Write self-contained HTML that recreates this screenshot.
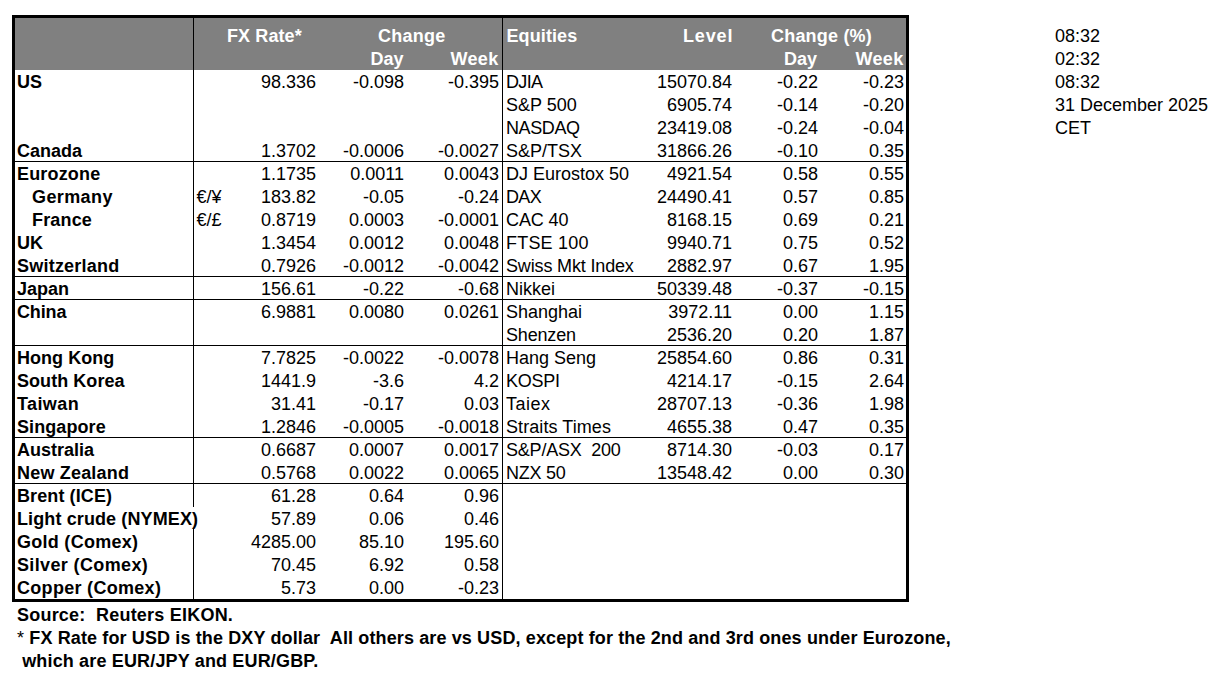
<!DOCTYPE html>
<html><head><meta charset="utf-8"><style>
html,body{margin:0;padding:0;background:#fff;width:1219px;height:673px;overflow:hidden}
body{position:relative;font-family:"Liberation Sans",sans-serif;font-size:18px;color:#000}
.t{position:absolute;line-height:23px;white-space:pre}
.r{text-align:right}
.b{font-weight:bold}
.w{color:#fff;font-weight:bold}
#frame{position:absolute;left:12px;top:15px;width:897px;height:587px;border:3px solid #000;box-sizing:border-box}
#hdr{position:absolute;left:15px;top:18px;width:891px;height:52px;background:#808080}
.vl{position:absolute;width:1px;background:#000}
.hl{position:absolute;left:15px;width:891px;height:1px;background:#000}
</style></head><body>
<div id="hdr"></div>
<div class="vl" style="left:193px;top:18px;height:489px"></div>
<div class="vl" style="left:193px;top:529px;height:70px"></div>
<div class="vl" style="left:502px;top:18px;height:581px"></div>
<div class="hl" style="top:161px"></div>
<div class="hl" style="top:276px"></div>
<div class="hl" style="top:299px"></div>
<div class="hl" style="top:345px"></div>
<div class="hl" style="top:437px"></div>
<div class="hl" style="top:483px"></div>
<div id="frame"></div>
<div class="t w" style="left:227px;top:25px;letter-spacing:0.1px">FX Rate*</div>
<div class="t w" style="left:378px;top:25px;letter-spacing:0.24px">Change</div>
<div class="t w" style="left:370.5px;top:48px">Day</div>
<div class="t w" style="left:450.5px;top:48px;letter-spacing:0.33px">Week</div>
<div class="t w" style="left:506.5px;top:25px;letter-spacing:0.1px">Equities</div>
<div class="t w" style="left:683px;top:25px;letter-spacing:0.85px">Level</div>
<div class="t w" style="left:771px;top:25px;letter-spacing:0.2px">Change (%)</div>
<div class="t w" style="left:784px;top:48px">Day</div>
<div class="t w" style="left:855.5px;top:48px;letter-spacing:0.33px">Week</div>
<div class="t b" style="left:17px;top:71px;">US</div>
<div class="t r " style="right:903px;top:71px;">98.336</div>
<div class="t r " style="right:815px;top:71px;">-0.098</div>
<div class="t r " style="right:720px;top:71px;">-0.395</div>
<div class="t " style="left:506px;top:71px;letter-spacing:-0.667px;">DJIA</div>
<div class="t r " style="right:487px;top:71px;">15070.84</div>
<div class="t r " style="right:401px;top:71px;">-0.22</div>
<div class="t r " style="right:315px;top:71px;">-0.23</div>
<div class="t " style="left:506px;top:94px;">S&amp;P 500</div>
<div class="t r " style="right:487px;top:94px;">6905.74</div>
<div class="t r " style="right:401px;top:94px;">-0.14</div>
<div class="t r " style="right:315px;top:94px;">-0.20</div>
<div class="t " style="left:506px;top:117px;letter-spacing:-0.400px;">NASDAQ</div>
<div class="t r " style="right:487px;top:117px;">23419.08</div>
<div class="t r " style="right:401px;top:117px;">-0.24</div>
<div class="t r " style="right:315px;top:117px;">-0.04</div>
<div class="t b" style="left:17px;top:140px;">Canada</div>
<div class="t r " style="right:903px;top:140px;">1.3702</div>
<div class="t r " style="right:815px;top:140px;">-0.0006</div>
<div class="t r " style="right:720px;top:140px;">-0.0027</div>
<div class="t " style="left:506px;top:140px;">S&amp;P/TSX</div>
<div class="t r " style="right:487px;top:140px;">31866.26</div>
<div class="t r " style="right:401px;top:140px;">-0.10</div>
<div class="t r " style="right:315px;top:140px;">0.35</div>
<div class="t b" style="left:17px;top:163px;letter-spacing:0.171px;">Eurozone</div>
<div class="t r " style="right:903px;top:163px;">1.1735</div>
<div class="t r " style="right:815px;top:163px;">0.0011</div>
<div class="t r " style="right:720px;top:163px;">0.0043</div>
<div class="t " style="left:506px;top:163px;">DJ Eurostox 50</div>
<div class="t r " style="right:487px;top:163px;">4921.54</div>
<div class="t r " style="right:401px;top:163px;">0.58</div>
<div class="t r " style="right:315px;top:163px;">0.55</div>
<div class="t b" style="left:32px;top:186px;letter-spacing:0.400px;">Germany</div>
<div class="t " style="left:196.5px;top:186px;">€/¥</div>
<div class="t r " style="right:903px;top:186px;">183.82</div>
<div class="t r " style="right:815px;top:186px;">-0.05</div>
<div class="t r " style="right:720px;top:186px;">-0.24</div>
<div class="t " style="left:506px;top:186px;letter-spacing:-0.650px;">DAX</div>
<div class="t r " style="right:487px;top:186px;">24490.41</div>
<div class="t r " style="right:401px;top:186px;">0.57</div>
<div class="t r " style="right:315px;top:186px;">0.85</div>
<div class="t b" style="left:32px;top:209px;letter-spacing:0.160px;">France</div>
<div class="t " style="left:196.5px;top:209px;">€/£</div>
<div class="t r " style="right:903px;top:209px;">0.8719</div>
<div class="t r " style="right:815px;top:209px;">0.0003</div>
<div class="t r " style="right:720px;top:209px;">-0.0001</div>
<div class="t " style="left:506px;top:209px;letter-spacing:-0.120px;">CAC 40</div>
<div class="t r " style="right:487px;top:209px;">8168.15</div>
<div class="t r " style="right:401px;top:209px;">0.69</div>
<div class="t r " style="right:315px;top:209px;">0.21</div>
<div class="t b" style="left:17px;top:232px;">UK</div>
<div class="t r " style="right:903px;top:232px;">1.3454</div>
<div class="t r " style="right:815px;top:232px;">0.0012</div>
<div class="t r " style="right:720px;top:232px;">0.0048</div>
<div class="t " style="left:506px;top:232px;letter-spacing:0.200px;">FTSE 100</div>
<div class="t r " style="right:487px;top:232px;">9940.71</div>
<div class="t r " style="right:401px;top:232px;">0.75</div>
<div class="t r " style="right:315px;top:232px;">0.52</div>
<div class="t b" style="left:17px;top:255px;letter-spacing:0.220px;">Switzerland</div>
<div class="t r " style="right:903px;top:255px;">0.7926</div>
<div class="t r " style="right:815px;top:255px;">-0.0012</div>
<div class="t r " style="right:720px;top:255px;">-0.0042</div>
<div class="t " style="left:506px;top:255px;letter-spacing:-0.157px;">Swiss Mkt Index</div>
<div class="t r " style="right:487px;top:255px;">2882.97</div>
<div class="t r " style="right:401px;top:255px;">0.67</div>
<div class="t r " style="right:315px;top:255px;">1.95</div>
<div class="t b" style="left:17px;top:278px;">Japan</div>
<div class="t r " style="right:903px;top:278px;">156.61</div>
<div class="t r " style="right:815px;top:278px;">-0.22</div>
<div class="t r " style="right:720px;top:278px;">-0.68</div>
<div class="t " style="left:506px;top:278px;">Nikkei</div>
<div class="t r " style="right:487px;top:278px;">50339.48</div>
<div class="t r " style="right:401px;top:278px;">-0.37</div>
<div class="t r " style="right:315px;top:278px;">-0.15</div>
<div class="t b" style="left:17px;top:301px;letter-spacing:-0.150px;">China</div>
<div class="t r " style="right:903px;top:301px;">6.9881</div>
<div class="t r " style="right:815px;top:301px;">0.0080</div>
<div class="t r " style="right:720px;top:301px;">0.0261</div>
<div class="t " style="left:506px;top:301px;">Shanghai</div>
<div class="t r " style="right:487px;top:301px;">3972.11</div>
<div class="t r " style="right:401px;top:301px;">0.00</div>
<div class="t r " style="right:315px;top:301px;">1.15</div>
<div class="t " style="left:506px;top:324px;letter-spacing:-0.167px;">Shenzen</div>
<div class="t r " style="right:487px;top:324px;">2536.20</div>
<div class="t r " style="right:401px;top:324px;">0.20</div>
<div class="t r " style="right:315px;top:324px;">1.87</div>
<div class="t b" style="left:17px;top:347px;letter-spacing:0.037px;">Hong Kong</div>
<div class="t r " style="right:903px;top:347px;">7.7825</div>
<div class="t r " style="right:815px;top:347px;">-0.0022</div>
<div class="t r " style="right:720px;top:347px;">-0.0078</div>
<div class="t " style="left:506px;top:347px;">Hang Seng</div>
<div class="t r " style="right:487px;top:347px;">25854.60</div>
<div class="t r " style="right:401px;top:347px;">0.86</div>
<div class="t r " style="right:315px;top:347px;">0.31</div>
<div class="t b" style="left:17px;top:370px;letter-spacing:0.050px;">South Korea</div>
<div class="t r " style="right:903px;top:370px;">1441.9</div>
<div class="t r " style="right:815px;top:370px;">-3.6</div>
<div class="t r " style="right:720px;top:370px;">4.2</div>
<div class="t " style="left:506px;top:370px;letter-spacing:-0.250px;">KOSPI</div>
<div class="t r " style="right:487px;top:370px;">4214.17</div>
<div class="t r " style="right:401px;top:370px;">-0.15</div>
<div class="t r " style="right:315px;top:370px;">2.64</div>
<div class="t b" style="left:17px;top:393px;letter-spacing:0.400px;">Taiwan</div>
<div class="t r " style="right:903px;top:393px;">31.41</div>
<div class="t r " style="right:815px;top:393px;">-0.17</div>
<div class="t r " style="right:720px;top:393px;">0.03</div>
<div class="t " style="left:506px;top:393px;letter-spacing:0.525px;">Taiex</div>
<div class="t r " style="right:487px;top:393px;">28707.13</div>
<div class="t r " style="right:401px;top:393px;">-0.36</div>
<div class="t r " style="right:315px;top:393px;">1.98</div>
<div class="t b" style="left:17px;top:416px;letter-spacing:0.087px;">Singapore</div>
<div class="t r " style="right:903px;top:416px;">1.2846</div>
<div class="t r " style="right:815px;top:416px;">-0.0005</div>
<div class="t r " style="right:720px;top:416px;">-0.0018</div>
<div class="t " style="left:506px;top:416px;letter-spacing:0.075px;">Straits Times</div>
<div class="t r " style="right:487px;top:416px;">4655.38</div>
<div class="t r " style="right:401px;top:416px;">0.47</div>
<div class="t r " style="right:315px;top:416px;">0.35</div>
<div class="t b" style="left:17px;top:439px;">Australia</div>
<div class="t r " style="right:903px;top:439px;">0.6687</div>
<div class="t r " style="right:815px;top:439px;">0.0007</div>
<div class="t r " style="right:720px;top:439px;">0.0017</div>
<div class="t " style="left:506px;top:439px;letter-spacing:-0.209px;">S&amp;P/ASX&nbsp; 200</div>
<div class="t r " style="right:487px;top:439px;">8714.30</div>
<div class="t r " style="right:401px;top:439px;">-0.03</div>
<div class="t r " style="right:315px;top:439px;">0.17</div>
<div class="t b" style="left:17px;top:462px;letter-spacing:0.190px;">New Zealand</div>
<div class="t r " style="right:903px;top:462px;">0.5768</div>
<div class="t r " style="right:815px;top:462px;">0.0022</div>
<div class="t r " style="right:720px;top:462px;">0.0065</div>
<div class="t " style="left:506px;top:462px;letter-spacing:-0.240px;">NZX 50</div>
<div class="t r " style="right:487px;top:462px;">13548.42</div>
<div class="t r " style="right:401px;top:462px;">0.00</div>
<div class="t r " style="right:315px;top:462px;">0.30</div>
<div class="t b" style="left:17px;top:485px;letter-spacing:0.100px;">Brent (ICE)</div>
<div class="t r " style="right:903px;top:485px;">61.28</div>
<div class="t r " style="right:815px;top:485px;">0.64</div>
<div class="t r " style="right:720px;top:485px;">0.96</div>
<div class="t b" style="left:17px;top:508px;letter-spacing:0.111px;">Light crude (NYMEX)</div>
<div class="t r " style="right:903px;top:508px;">57.89</div>
<div class="t r " style="right:815px;top:508px;">0.06</div>
<div class="t r " style="right:720px;top:508px;">0.46</div>
<div class="t b" style="left:17px;top:531px;letter-spacing:0.273px;">Gold (Comex)</div>
<div class="t r " style="right:903px;top:531px;">4285.00</div>
<div class="t r " style="right:815px;top:531px;">85.10</div>
<div class="t r " style="right:720px;top:531px;">195.60</div>
<div class="t b" style="left:17px;top:554px;letter-spacing:0.369px;">Silver (Comex)</div>
<div class="t r " style="right:903px;top:554px;">70.45</div>
<div class="t r " style="right:815px;top:554px;">6.92</div>
<div class="t r " style="right:720px;top:554px;">0.58</div>
<div class="t b" style="left:17px;top:577px;letter-spacing:0.300px;">Copper (Comex)</div>
<div class="t r " style="right:903px;top:577px;">5.73</div>
<div class="t r " style="right:815px;top:577px;">0.00</div>
<div class="t r " style="right:720px;top:577px;">-0.23</div>
<div class="t b" style="left:17px;top:604px;letter-spacing:0.218px">Source:&nbsp; Reuters EIKON.</div>
<div class="t b" style="left:17px;top:627px;letter-spacing:0.127px"><span style="font-weight:normal">*</span> FX Rate for USD is the DXY dollar&nbsp; All others are vs USD, except for the 2nd and 3rd ones under Eurozone,</div>
<div class="t b" style="left:17px;top:650px;letter-spacing:0.157px"> which are EUR/JPY and EUR/GBP.</div>
<div class="t" style="left:1055px;top:25px">08:32</div>
<div class="t" style="left:1055px;top:48px">02:32</div>
<div class="t" style="left:1055px;top:71px">08:32</div>
<div class="t" style="left:1055px;top:94px">31 December 2025</div>
<div class="t" style="left:1055px;top:117px">CET</div>
</body></html>
